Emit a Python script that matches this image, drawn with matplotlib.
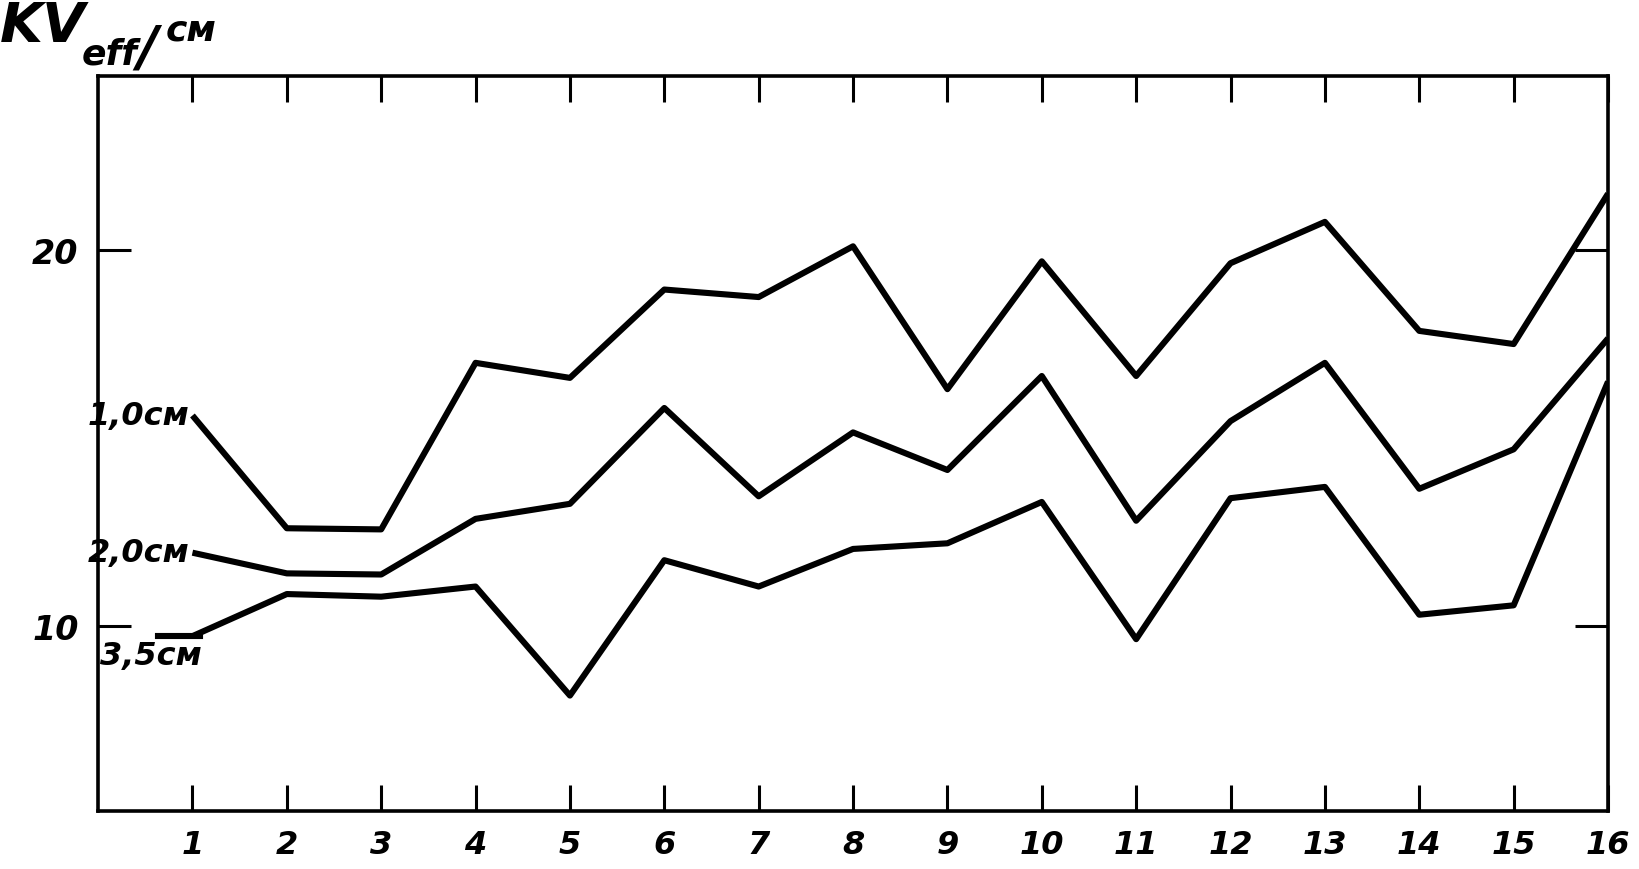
import matplotlib
matplotlib.use("Agg")
import matplotlib.pyplot as plt
import numpy as np

# measurement points
points = list(range(1, 17))
tick_labels = [str(p) for p in points]

# KV_eff/cm for different distances
series_names = ["1,0см", "2,0см", "3,5см"]
kv_10 = [15.6, 12.6, 12.57, 17.0, 16.6, 18.95, 18.75, 20.1, 16.3, 19.7, 16.65, 19.65, 20.75, 17.85, 17.5, 21.5]
kv_20 = [11.95, 11.4, 11.37, 12.85, 13.25, 15.8, 13.45, 15.15, 14.15, 16.65, 12.8, 15.45, 17.0, 13.65, 14.7, 17.65]
kv_35 = [9.73, 10.85, 10.78, 11.05, 8.15, 11.75, 11.05, 12.05, 12.2, 13.3, 9.65, 13.4, 13.7, 10.3, 10.55, 16.5]
y_ticks = [10, 20]

FONT = dict(family="DejaVu Sans", style="italic", weight="bold")

fig = plt.figure(figsize=(16.4, 8.7), dpi=100)
ax = fig.add_axes([0.0598, 0.0667, 0.9207, 0.8448])

for vals in (kv_10, kv_20, kv_35):
    ax.plot(points, vals, color="black", lw=4.4, solid_joinstyle="round",
            solid_capstyle="butt")

# lead-in for lowest curve (label leader)
ax.plot([points[0] - 0.37, points[0] + 0.08], [kv_35[0], kv_35[0]], color="black", lw=4.4)

ax.set_xlim(0, 16)
ax.set_ylim(5.08, 24.63)

ax.set_xticks(points)
ax.set_xticklabels(tick_labels, fontsize=23, **FONT)
ax.set_yticks(y_ticks)
ax.set_yticklabels([str(v) for v in y_ticks], fontsize=24, **FONT)

ax.tick_params(axis="x", direction="in", top=True, bottom=True, length=19, width=2.2, pad=13)
ax.tick_params(axis="y", direction="in", left=True, right=True, length=24, width=2.2, pad=14)

for s in ax.spines.values():
    s.set_linewidth(2.6)

# series labels at the start of each curve
ax.annotate(series_names[0], xy=(points[0], kv_10[0]), xytext=(-2, 0), textcoords="offset points",
            ha="right", va="center", fontsize=23, **FONT)
ax.annotate(series_names[1], xy=(points[0], kv_20[0]), xytext=(-2, 0), textcoords="offset points",
            ha="right", va="center", fontsize=23, **FONT)
ax.annotate(series_names[2], xy=(points[0], kv_35[0]), xytext=(7, -3), textcoords="offset points",
            ha="right", va="top", fontsize=23, **FONT)

# y-axis unit label at top-left
fig.text(0.0, 0.952, "KV", fontsize=40, ha="left", va="baseline", **FONT)
fig.text(0.05, 0.926, "eff", fontsize=26, ha="left", va="baseline", **FONT)
fig.text(0.084, 0.926, "/", fontsize=40, ha="left", va="baseline", **FONT)
fig.text(0.101, 0.954, "см", fontsize=26, ha="left", va="baseline", **FONT)

fig.savefig("out.png", dpi=100)
